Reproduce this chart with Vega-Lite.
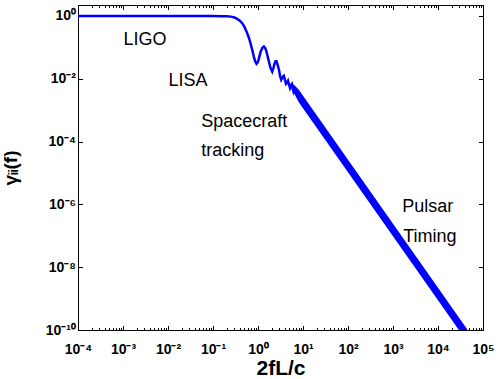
{
  "$schema": "https://vega.github.io/schema/vega-lite/v6.json",
  "width": 405,
  "height": 325,
  "autosize": "none",
  "padding": {"left": 78, "top": 5, "right": 15, "bottom": 49},
  "config": {
    "view": {"stroke": "black", "strokeWidth": 1},
    "font": "Liberation Sans",
    "axis": {
      "domainColor": "black", "tickColor": "black", "labelColor": "black", "titleColor": "black",
      "grid": false, "labelFont": "Liberation Sans", "labelFontWeight": "bold", "labelFontSize": 14,
      "titleFont": "Liberation Sans", "titleFontWeight": "bold", "labelOverlap": false, "labelFlush": false
    }
  },
  "datasets": {
    "curve": [
      {"f": 0.0001, "g": 1}, {"f": 0.001, "g": 1}, {"f": 0.01, "g": 1}, {"f": 0.05, "g": 1},
      {"f": 0.1, "g": 0.995}, {"f": 0.15, "g": 0.99}, {"f": 0.2, "g": 0.975}, {"f": 0.25, "g": 0.955},
      {"f": 0.3, "g": 0.9}, {"f": 0.345, "g": 0.81}, {"f": 0.4, "g": 0.7}, {"f": 0.446, "g": 0.59},
      {"f": 0.5, "g": 0.45}, {"f": 0.575, "g": 0.285}, {"f": 0.63, "g": 0.2}, {"f": 0.68, "g": 0.137},
      {"f": 0.75, "g": 0.08}, {"f": 0.807, "g": 0.051}, {"f": 0.86, "g": 0.037}, {"f": 0.927, "g": 0.03},
      {"f": 0.98, "g": 0.033}, {"f": 1.03, "g": 0.04}, {"f": 1.14, "g": 0.072}, {"f": 1.25, "g": 0.097},
      {"f": 1.35, "g": 0.107}, {"f": 1.45, "g": 0.095}, {"f": 1.55, "g": 0.072}, {"f": 1.75, "g": 0.035},
      {"f": 1.9, "g": 0.022}, {"f": 2.07, "g": 0.017}, {"f": 2.2, "g": 0.022}, {"f": 2.33, "g": 0.031},
      {"f": 2.45, "g": 0.036}, {"f": 2.58, "g": 0.036}, {"f": 2.75, "g": 0.027}, {"f": 2.93, "g": 0.019},
      {"f": 3.1, "g": 0.012}, {"f": 3.28, "g": 0.0093}, {"f": 3.5, "g": 0.0115}, {"f": 3.74, "g": 0.0125},
      {"f": 3.95, "g": 0.0095}, {"f": 4.19, "g": 0.0069}, {"f": 4.4, "g": 0.0075}, {"f": 4.64, "g": 0.0087},
      {"f": 4.9, "g": 0.0065}, {"f": 5.14, "g": 0.0051}, {"f": 5.4, "g": 0.0062}, {"f": 5.65, "g": 0.0068},
      {"f": 5.9, "g": 0.005}, {"f": 6.15, "g": 0.0039}, {"f": 6.4, "g": 0.0045}
    ],
    "band": [
      {"f": 5.6, "lo": 0.00479, "hi": 0.00759},
      {"f": 8, "lo": 0.00183, "hi": 0.00459},
      {"f": 10, "lo": 0.001159, "hi": 0.00291},
      {"f": 100, "lo": 1.057e-5, "hi": 2.655e-5},
      {"f": 1000, "lo": 9.64e-8, "hi": 2.42e-7},
      {"f": 10000, "lo": 8.79e-10, "hi": 2.21e-9},
      {"f": 60000, "lo": 2.28e-11, "hi": 5.71e-11}
    ],
    "notes": [
      {"f": 0.00103, "g": 0.121, "label": "LIGO"},
      {"f": 0.0103, "g": 0.00598, "label": "LISA"},
      {"f": 0.0547, "g": 0.000296, "label": "Spacecraft"},
      {"f": 0.0547, "g": 3.53e-5, "label": "tracking"},
      {"f": 1600, "g": 5.6e-7, "label": "Pulsar"},
      {"f": 1690, "g": 6.12e-8, "label": "Timing"}
    ]
  },
  "resolve": {"scale": {"x": "shared", "y": "shared"}, "axis": {"x": "independent", "y": "independent"}},
  "layer": [
    {
      "data": {"name": "curve"},
      "mark": {"type": "line", "color": "#0000ff", "strokeWidth": 2.5, "clip": true},
      "encoding": {
        "x": {
          "field": "f", "type": "quantitative",
          "scale": {"type": "log", "domain": [0.0001, 100000]},
          "axis": {
            "orient": "bottom", "title": "2fL/c", "titleFontSize": 21, "titleBaseline": "alphabetic", "titleY": 44,
            "values": [0.0001,0.0002,0.0003,0.0004,0.0005,0.0006,0.0007,0.0008,0.0009,0.001,0.002,0.003,0.004,0.005,0.006,0.007,0.008,0.009,0.01,0.02,0.03,0.04,0.05,0.06,0.07,0.08,0.09,0.1,0.2,0.3,0.4,0.5,0.6,0.7,0.8,0.9,1,2,3,4,5,6,7,8,9,10,20,30,40,50,60,70,80,90,100,200,300,400,500,600,700,800,900,1000,2000,3000,4000,5000,6000,7000,8000,9000,10000,20000,30000,40000,50000,60000,70000,80000,90000,100000],
            "labelExpr": "abs(log(datum.value)/LN10 - round(log(datum.value)/LN10)) < 1e-6 ? ['10⁻⁴','10⁻³','10⁻²','10⁻¹','10⁰','10¹','10²','10³','10⁴','10⁵'][round(log(datum.value)/LN10)+4] : ''",
            "tickSize": {"condition": {"test": "abs(log(datum.value)/LN10 - round(log(datum.value)/LN10)) < 1e-6", "value": -4.5}, "value": -2.5},
            "labelBaseline": "alphabetic", "labelPadding": 28
          }
        },
        "y": {
          "field": "g", "type": "quantitative",
          "scale": {"type": "log", "domain": [1e-10, 2.24]},
          "axis": {
            "orient": "left", "title": "γᵢᵢ(f)", "titleFontSize": 19, "titleBaseline": "alphabetic", "titleX": -61.5, "titleAngle": -90,
            "values": [1e-10, 1e-8, 1e-6, 0.0001, 0.01, 1],
            "labelExpr": "['10⁻¹⁰','10⁻⁹','10⁻⁸','10⁻⁷','10⁻⁶','10⁻⁵','10⁻⁴','10⁻³','10⁻²','10⁻¹','10⁰'][round(log(datum.value)/LN10)+10]",
            "tickSize": -4.5, "labelPadding": 7
          }
        }
      }
    },
    {
      "data": {"name": "band"},
      "mark": {"type": "area", "color": "#0000ff", "opacity": 1, "clip": true},
      "encoding": {
        "x": {
          "field": "f", "type": "quantitative",
          "scale": {"type": "log", "domain": [0.0001, 100000]},
          "axis": {
            "orient": "top", "title": null, "labels": false,
            "values": [0.0001,0.0002,0.0003,0.0004,0.0005,0.0006,0.0007,0.0008,0.0009,0.001,0.002,0.003,0.004,0.005,0.006,0.007,0.008,0.009,0.01,0.02,0.03,0.04,0.05,0.06,0.07,0.08,0.09,0.1,0.2,0.3,0.4,0.5,0.6,0.7,0.8,0.9,1,2,3,4,5,6,7,8,9,10,20,30,40,50,60,70,80,90,100,200,300,400,500,600,700,800,900,1000,2000,3000,4000,5000,6000,7000,8000,9000,10000,20000,30000,40000,50000,60000,70000,80000,90000,100000],
            "tickSize": {"condition": {"test": "abs(log(datum.value)/LN10 - round(log(datum.value)/LN10)) < 1e-6", "value": -4.5}, "value": -2.5}
          }
        },
        "y": {
          "field": "lo", "type": "quantitative",
          "scale": {"type": "log", "domain": [1e-10, 2.24]},
          "axis": {"orient": "right", "title": null, "labels": false, "values": [1e-10, 1e-8, 1e-6, 0.0001, 0.01, 1], "tickSize": -4.5}
        },
        "y2": {"field": "hi"}
      }
    },
    {
      "data": {"name": "notes"},
      "mark": {"type": "text", "align": "left", "baseline": "alphabetic", "fontSize": 18, "font": "Liberation Sans", "color": "black"},
      "encoding": {
        "x": {"field": "f", "type": "quantitative", "scale": {"type": "log", "domain": [0.0001, 100000]}, "axis": null},
        "y": {"field": "g", "type": "quantitative", "scale": {"type": "log", "domain": [1e-10, 2.24]}, "axis": null},
        "text": {"field": "label"}
      }
    }
  ]
}
